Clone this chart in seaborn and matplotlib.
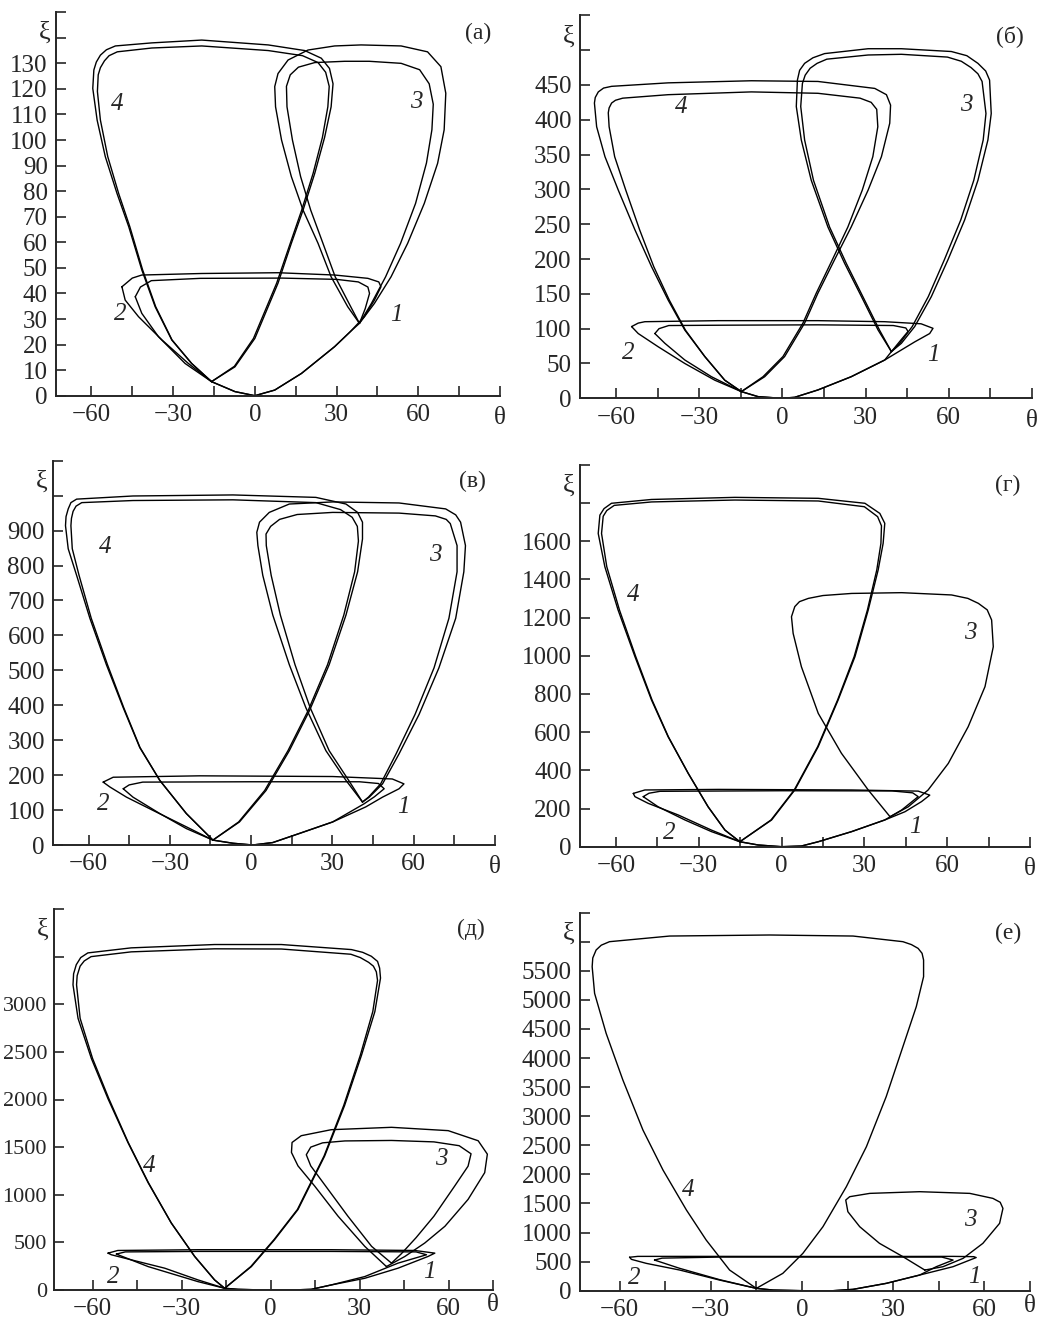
import numpy as np
import matplotlib
matplotlib.use('Agg')
import matplotlib.pyplot as plt
import seaborn as sns

sns.set_style('ticks')
plt.rcParams['font.family'] = ['Liberation Serif', 'DejaVu Serif']

# ---------- curves: (theta, xi) ----------
# panel (а)
a4_out = [(-15.9, 5.5), (-7.3, 11.3), (0, 22.4), (8.5, 44), (13.4, 59.6), (17.7, 72.6), (22, 87), (25.6, 101),
          (28, 113), (28.7, 122), (27.4, 128), (24.4, 132), (18.3, 135), (4.9, 137.2), (-19.5, 139.1),
          (-37.8, 138), (-51.2, 136.8), (-54.5, 135.3), (-56.7, 133.2), (-58.2, 130.5), (-59.1, 127.4),
          (-59.5, 120.2), (-57.9, 107.8), (-54.9, 93.5), (-50.6, 79.1), (-46.3, 66.1), (-41.5, 49.2),
          (-36.6, 34.8), (-30.5, 21.8), (-23.2, 12.6), (-15.9, 5.5)]
a4_in = [(-15.9, 5.5), (-7.5, 11.5), (-0.5, 22.4), (8, 44), (13, 59.6), (17.2, 72.6), (21.4, 87), (24.8, 101),
         (26.8, 113), (27.3, 121), (26, 126.5), (23.2, 130.3), (17.5, 133), (4.9, 135), (-19.5, 136.8),
         (-37.8, 136), (-50.5, 134.5), (-53.5, 133), (-55.2, 131), (-56.7, 128.3), (-57.5, 125.5),
         (-57.8, 119), (-56.7, 107.8), (-54, 93.5), (-50, 79.1), (-45.9, 66.1), (-41.2, 49.2),
         (-36.4, 34.8), (-30.4, 21.8), (-23.2, 12.6), (-15.9, 5.5)]
a3_out = [(38.4, 28.3), (34.1, 34.8), (28, 46.5), (23.2, 59.6), (17.7, 72.6), (13.4, 85.7), (9.8, 100),
          (7.6, 113), (7.3, 120.9), (8.5, 126), (12.2, 131.3), (19.5, 135.2), (29.3, 136.8), (39, 137.2),
          (53.7, 136.8), (63.4, 134.5), (68.3, 128.7), (70.1, 118.3), (69.5, 104), (67.1, 90.9),
          (62.2, 75.2), (56.1, 59.6), (50, 46.5), (43.9, 36.1), (38.4, 28.3)]
a3_in = [(38.4, 28.3), (35.2, 34.8), (29.5, 46.5), (25, 59.6), (20.5, 72.6), (16.8, 85.7), (13.8, 100),
         (11.8, 113), (11.6, 121), (13, 125.5), (16, 128.5), (22, 130.3), (33, 130.8), (42, 130.8),
         (53.7, 130), (60.5, 127.5), (64, 122), (65.5, 114), (65, 104), (63, 91), (59, 75.2),
         (53.5, 59.6), (48, 46.5), (42.8, 36.1), (38.4, 28.3)]
a_band_out = [(-48.8, 42.6), (-45, 46), (-41.5, 47.2), (-19.5, 47.8), (8.5, 48.1), (29.3, 47.2), (41.5, 45.9),
              (45.5, 44.5), (46.3, 42.6), (43.9, 37.4), (40.2, 30.9), (35, 25), (29.3, 19.2), (17.1, 8.7),
              (7.3, 2.2), (0, 0), (-7.3, 1.6), (-15.9, 5.5), (-24.4, 12.6), (-34.1, 21.8), (-42.7, 30.9),
              (-47.6, 37.4), (-48.8, 42.6)]
a_band_in = [(-43.9, 38.7), (-42, 42.5), (-38, 45), (-20, 45.9), (10, 46), (30, 45.5), (38, 44.5), (41.5, 42.5),
             (42.1, 40), (40.5, 34), (38.4, 28.3), (35, 25), (29.3, 19.2), (17.1, 8.7), (7.3, 2.2), (0, 0),
             (-7.3, 1.6), (-15.9, 5.5), (-25.6, 12.6), (-35.4, 23.1), (-41.5, 32.2), (-43.9, 38.7)]

# panel (б)
b4_out = [(-14.8, 9.6), (-6.4, 31), (0.8, 60), (8, 108), (12.8, 151), (18.8, 199), (24.8, 246), (30.9, 299),
          (35.7, 347), (38.7, 395), (39, 421), (37.5, 436), (33.3, 445), (12.8, 455), (-11.2, 456),
          (-41.2, 453), (-61.6, 448), (-64.5, 445.5), (-66.4, 440), (-67.5, 432), (-67.8, 424), (-67, 390),
          (-64, 347), (-59.2, 299), (-53.2, 242), (-47.2, 189), (-41.2, 141), (-35.2, 98), (-28, 60),
          (-20.8, 26), (-14.8, 9.6)]
b4_in = [(-14.8, 9.6), (-7, 31), (0.2, 60), (7.4, 108), (12.2, 151), (18, 199), (23.6, 246), (28.8, 299),
         (32.6, 347), (34.4, 390), (34, 415), (32, 425), (28, 431), (12.8, 438), (-11.2, 440), (-41.2, 436),
         (-57.6, 431), (-60.2, 428), (-61.6, 424), (-62.5, 417), (-62.8, 410), (-62.5, 390), (-60.5, 347),
         (-56.5, 299), (-51.5, 242), (-46.4, 189), (-40.8, 141), (-35, 98), (-28, 60), (-20.8, 26),
         (-14.8, 9.6)]
b3_out = [(39.3, 67), (34.5, 98), (28.5, 146), (22.4, 194), (16.4, 246), (10.4, 313), (6.8, 371), (5, 419),
          (5.4, 457), (6.2, 471), (8, 481), (11, 489), (15.2, 495), (30.9, 502), (42.9, 502), (60.9, 498),
          (66.5, 492), (70.5, 481), (73.3, 470), (74.7, 457), (75.3, 409), (74.1, 371), (70.5, 313),
          (65.7, 256), (59.7, 199), (53.7, 146), (47.7, 103), (42.9, 79), (39.3, 67)]
b3_in = [(39.3, 67), (35, 98), (29, 146), (23, 194), (17, 246), (11.2, 313), (8, 371), (6.6, 419), (7.2, 452),
         (8.2, 464), (10, 474), (12.5, 481), (16, 487), (30.9, 493), (42.9, 494), (59.5, 490), (64.5, 484),
         (68, 475), (70.5, 466), (72, 455), (73.4, 409), (72.4, 371), (69, 313), (64.3, 256), (58.4, 199),
         (52.6, 146), (46.8, 103), (42.3, 79), (39.3, 67)]
b_band_out = [(-54.4, 103), (-52, 108), (-49.6, 110), (-23.2, 111.5), (12.8, 111.5), (36.9, 110), (50, 107),
              (54.3, 100.5), (53.1, 93), (47.7, 81), (36.9, 55), (24.8, 31), (12.8, 12), (4.4, 1.4),
              (-0.4, 0), (-8.8, 2.4), (-14.8, 9.6), (-24.4, 26), (-35.2, 50), (-44.8, 74), (-52, 93),
              (-54.4, 103)]
b_band_in = [(-46, 93), (-44.5, 100), (-41, 104.5), (-20, 105), (12.8, 105.5), (40, 104.5), (44.5, 101),
             (45.3, 96), (43, 85), (39.3, 67), (36.9, 55), (24.8, 31), (12.8, 12), (4.4, 1.4), (-0.4, 0),
             (-8.8, 2.4), (-14.8, 9.6), (-25.6, 31), (-35.2, 55), (-42.4, 79), (-46, 93)]

# panel (в)
c4_out = [(-14.1, 14), (-4.3, 66), (5.5, 156), (14.1, 270), (21.5, 384), (28.8, 516), (35, 658), (39.3, 782),
          (41.1, 876), (41.1, 924), (39.3, 952), (35, 976), (23.9, 995), (-6.7, 1002), (-43.6, 999),
          (-64.4, 990), (-66.5, 980), (-67.5, 962), (-68.3, 940), (-68.5, 914), (-67.5, 848), (-64.4, 772),
          (-59.5, 649), (-53.4, 516), (-47.2, 393), (-41.1, 279), (-33.7, 185), (-23.9, 90), (-14.1, 14)]
c4_in = [(-14.1, 14), (-4.6, 66), (5, 156), (13.6, 270), (21, 384), (28.2, 516), (34.2, 658), (38.2, 782),
         (39.6, 870), (39.2, 912), (37.3, 938), (33, 960), (23.9, 980), (-6.7, 988), (-43.6, 986),
         (-62.5, 980), (-64.6, 970), (-65.7, 955), (-66.3, 935), (-66.5, 914), (-66, 848), (-63.5, 772),
         (-59, 649), (-53, 516), (-47, 393), (-41, 279), (-33.7, 185), (-23.9, 90), (-14.1, 14)]
c3_out = [(41.1, 123), (35, 185), (27.6, 270), (20.2, 393), (14.1, 516), (8, 658), (4.3, 772), (2.5, 857),
          (2.1, 895), (3.1, 924), (6.7, 952), (14.1, 976), (30.1, 982), (54.6, 979), (71.8, 962), (75.5, 945),
          (77.3, 924), (79.1, 857), (78.5, 782), (75.5, 649), (69.3, 507), (62, 374), (54.6, 261), (48.5, 175),
          (43.6, 137), (41.1, 123)]
c3_in = [(41.1, 123), (36, 185), (28.8, 270), (21.8, 393), (16.2, 516), (10.8, 658), (7.4, 772), (5.6, 857),
         (5.5, 890), (7.2, 912), (10.5, 932), (17, 946), (30.1, 952), (54.6, 950), (68, 942), (72, 932),
         (73.5, 920), (76, 857), (76, 782), (73, 649), (67.5, 507), (60.5, 374), (53.5, 261), (47.8, 175),
         (43.3, 137), (41.1, 123)]
c_band_out = [(-54.6, 180), (-50.9, 194), (-19, 198), (30.1, 196), (52.1, 189), (56.4, 175), (54.6, 161),
              (48.5, 137), (42.3, 109), (30.1, 66), (17.8, 33), (8, 7), (0.6, 0), (-6.7, 5), (-14.1, 14),
              (-23.9, 52), (-36.2, 99), (-46, 137), (-52.1, 166), (-54.6, 180)]
c_band_in = [(-47.2, 161), (-45, 172), (-40, 180), (0, 181), (40, 181), (47, 176), (49.1, 161), (45.5, 138),
             (41.7, 118), (30.1, 66), (17.8, 33), (8, 7), (0.6, 0), (-6.7, 5), (-14.1, 14), (-23.9, 47),
             (-33.7, 90), (-43.6, 137), (-47.2, 161)]

# panel (г)
d4_out = [(-15.1, 26), (-3.6, 140), (4.8, 297), (13.3, 524), (20.5, 768), (26.6, 995), (31.4, 1239),
          (35, 1449), (36.8, 1588), (37.4, 1693), (35.6, 1745), (30.2, 1798), (13.3, 1824), (-16.9, 1829),
          (-47.1, 1818), (-61.6, 1798), (-64.3, 1770), (-65.8, 1736), (-66.4, 1640), (-64, 1466),
          (-59.2, 1239), (-53.1, 995), (-47.1, 768), (-41.1, 576), (-33.8, 384), (-26.6, 209), (-20.5, 87),
          (-15.1, 26)]
d4_in = [(-15.1, 26), (-3.8, 140), (4.6, 297), (13.1, 524), (20.3, 768), (26.3, 995), (31.1, 1239),
         (34.5, 1449), (36, 1588), (36.2, 1680), (34.8, 1728), (30, 1780), (13.3, 1810), (-16.9, 1815),
         (-47.1, 1805), (-60.6, 1787), (-63.3, 1760), (-64.6, 1730), (-65.2, 1640), (-63.3, 1466),
         (-58.7, 1239), (-52.8, 995), (-46.9, 768), (-41, 576), (-33.8, 384), (-26.6, 209), (-20.5, 87),
         (-15.1, 26)]
d3 = [(39.3, 157), (31.4, 297), (21.7, 489), (13.3, 698), (7.2, 942), (4.2, 1117), (3.6, 1204), (4.8, 1257),
      (6.5, 1283), (9.7, 1300), (15, 1315), (25.4, 1326), (43.5, 1330), (61.6, 1318), (67.5, 1300),
      (71.3, 1274), (74.5, 1240), (76.1, 1187), (76.7, 1047), (73.7, 838), (67.6, 628), (60.4, 436),
      (53.1, 297), (45.9, 209), (39.3, 157)]
d_band_out = [(-53.7, 279), (-49.5, 297), (-22.9, 300), (25.4, 297), (49.5, 291), (53.7, 270), (50.7, 236),
              (44.7, 183), (37.4, 140), (25.4, 79), (13.3, 26), (7.2, 3.5), (0, 0), (-8.5, 9), (-15.1, 26),
              (-25.4, 87), (-37.4, 166), (-48.3, 227), (-53.1, 262), (-53.7, 279)]
d_band_in = [(-50.1, 262), (-48, 280), (-44, 290), (0, 293), (40, 292), (47.5, 282), (49.5, 262),
             (43.5, 192), (37.4, 140), (25.4, 79), (13.3, 26), (7.2, 3.5), (0, 0), (-8.5, 9), (-15.1, 26),
             (-25.4, 79), (-35, 140), (-44.7, 209), (-50.1, 262)]

# panel (д)
e4_out = [(-15.5, 18), (-6.5, 246), (1.3, 528), (9.2, 845), (18.2, 1408), (24.9, 1937), (30.6, 2465),
          (35.1, 2923), (37, 3275), (36.7, 3380), (36, 3450), (33.9, 3504), (31, 3545), (27.2, 3574),
          (3.6, 3627), (-18.9, 3627), (-47, 3592), (-61.6, 3539), (-64, 3490), (-65.5, 3415), (-66.4, 3320),
          (-66.6, 3204), (-64.9, 2852), (-60.4, 2430), (-54.8, 2007), (-48.1, 1549), (-41.3, 1127),
          (-33.5, 704), (-25.6, 352), (-18.9, 106), (-15.5, 18)]
e4_in = [(-15.5, 18), (-6.7, 246), (1.1, 528), (9, 845), (18, 1408), (24.6, 1937), (30.2, 2465), (34.4, 2923),
         (36, 3250), (35.6, 3340), (34.6, 3400), (33, 3440), (30.2, 3490), (27, 3525), (3.6, 3580),
         (-18.9, 3582), (-47, 3550), (-60.5, 3500), (-62.8, 3455), (-64.2, 3400), (-65.2, 3300),
         (-65.4, 3204), (-64.2, 2852), (-60, 2430), (-54.5, 2007), (-48, 1549), (-41.2, 1127), (-33.5, 704),
         (-25.6, 352), (-18.9, 106), (-15.5, 18)]
e3_out = [(39, 246), (31.7, 458), (22.7, 775), (14.8, 1092), (9.2, 1303), (7, 1444), (7.2, 1549), (10.3, 1620),
          (20.4, 1683), (40.7, 1708), (59.8, 1673), (69.9, 1567), (73, 1426), (72.1, 1232), (66.5, 951),
          (58.7, 669), (51.9, 493), (45.2, 352), (39, 246)]
e3_in = [(40.7, 282), (34, 458), (26, 775), (18.5, 1092), (13.5, 1303), (12, 1420), (13.5, 1500), (17.5, 1545),
         (25, 1565), (40.7, 1570), (55, 1555), (63.5, 1515), (67.5, 1430), (66.5, 1300), (62, 1092),
         (55, 775), (49, 550), (44, 380), (40.7, 282)]
e_band_out = [(-54.8, 387), (-51.5, 415), (-24.5, 423), (20.4, 423), (48.5, 415), (55.3, 387), (53, 352),
              (42.9, 229), (31.7, 123), (20.4, 53), (13.7, 7), (7, 0), (-2, 0), (-11, 7), (-15.5, 18),
              (-24.5, 106), (-35.7, 229), (-47, 317), (-53.7, 370), (-54.8, 387)]
e_band_in = [(-52, 377), (-49, 400), (-24.5, 405), (20.4, 405), (49, 400), (52.5, 370), (42.9, 282),
             (31.7, 141), (20.4, 53), (13.7, 7), (7, 0), (-2, 0), (-11, 7), (-15.5, 18), (-24.5, 88),
             (-41.3, 246), (-52, 377)]

# panel (е)
f4 = [(-15, 40), (-6.3, 298), (0.3, 642), (6.9, 1100), (14.6, 1788), (21.2, 2476), (27.7, 3335), (33.2, 4195),
      (37.6, 4883), (40, 5398), (40, 5685), (39.5, 5800), (38.2, 5885), (36, 5950), (33.2, 6000), (16.8, 6097),
      (-10.6, 6115), (-43.5, 6097), (-63.3, 6000), (-66, 5940), (-67.7, 5857), (-68.8, 5720), (-69, 5570),
      (-68.2, 5112), (-64.4, 4424), (-58.9, 3622), (-52.3, 2762), (-45.7, 2074), (-38, 1387), (-31.5, 871),
      (-23.8, 355), (-15, 40)]
f3 = [(40.4, 355), (33.2, 585), (25.5, 814), (19, 1100), (15.1, 1358), (14.4, 1559), (15.7, 1616), (22.3, 1673),
      (38.7, 1702), (55.2, 1673), (62.8, 1587), (65.2, 1520), (66.1, 1415), (65, 1158), (59.5, 814), (53, 556),
      (46.4, 413), (40.4, 355)]
f_band_out = [(-56.7, 575), (-54, 590), (-27.1, 590), (16.8, 588), (49.7, 590), (56.5, 585), (57.3, 570),
              (49.7, 413), (38.7, 269), (27.7, 126), (16.8, 23), (10.2, 0), (0.3, 0), (-9.5, 11), (-15, 40),
              (-27.1, 183), (-40.2, 355), (-51.2, 470), (-56.1, 539), (-56.7, 575)]
f_band_in = [(-48.5, 527), (-46, 560), (-27.1, 578), (16.8, 578), (46, 578), (49.7, 527), (44.2, 413),
             (38.7, 269), (27.7, 126), (16.8, 23), (10.2, 0), (0.3, 0), (-9.5, 11), (-15, 40), (-27.1, 190),
             (-40.2, 384), (-48.5, 527)]

# ---------- axis values ----------
a_yticks = list(range(0, 151, 10))
b_yticks = list(range(0, 551, 50))
c_yticks = list(range(0, 1101, 100))
d_yticks = list(range(0, 2001, 200))
e_yticks = list(range(0, 4001, 500))
f_yticks = list(range(0, 6501, 500))
a_ylabmax, b_ylabmax, c_ylabmax, d_ylabmax, e_ylabmax, f_ylabmax = 130, 450, 900, 1600, 3000, 5500
theta_labels = [-60, -30, 0, 30, 60]

# loop number labels (theta, xi)
a_nums = {'1': (51.9, 31.5), '2': (-49.6, 32), '3': (59.2, 115), '4': (-50.6, 114)}
b_nums = {'1': (54.3, 62), '2': (-55.6, 64.6), '3': (66.3, 421), '4': (-36.4, 419)}
c_nums = {'1': (56.3, 109), '2': (-54.5, 118), '3': (67.9, 829), '4': (-53.9, 853)}
d_nums = {'1': (48.3, 105), '2': (-40.5, 70), '3': (68.2, 1117), '4': (-53.7, 1318)}
e_nums = {'1': (53.6, 194), '2': (-53.1, 141), '3': (57.5, 1373), '4': (-40.8, 1303)}
f_nums = {'1': (56.8, 241), '2': (-55, 212), '3': (55.2, 1215), '4': (-37.5, 1731)}

W, H = 1050, 1321
fig = plt.figure(figsize=(W / 100, H / 100), dpi=100)


def px_rect(left, right, top, bottom):
    return [left / W, 1 - bottom / H, (right - left) / W, (bottom - top) / H]


def fmt(v):
    return str(v).replace('-', '\u2212')


def draw_curve(ax, pts, lw=1.0):
    arr = np.array(pts, dtype=float)
    sns.lineplot(x=arr[:, 0], y=arr[:, 1], sort=False, estimator=None,
                 color='black', linewidth=lw, ax=ax, solid_joinstyle='round')


panels = [
    ('(а)', px_rect(56, 500, 12.2, 395.7), 90, a_yticks, a_ylabmax,
     [a4_out, a4_in, a3_out, a3_in, a_band_out, a_band_in], a_nums, 18, -16),
    ('(б)', px_rect(580, 1032, 15.3, 398.3), 90, b_yticks, b_ylabmax,
     [b4_out, b4_in, b3_out, b3_in, b_band_out, b_band_in], b_nums, 18, -16),
    ('(в)', px_rect(53.3, 495, 460.7, 845), 90, c_yticks, c_ylabmax,
     [c4_out, c4_in, c3_out, c3_in, c_band_out, c_band_in], c_nums, 18, -16),
    ('(г)', px_rect(580, 1030, 464.7, 846.7), 90, d_yticks, d_ylabmax,
     [d4_out, d4_in, d3, d_band_out, d_band_in], d_nums, 18, -16),
    ('(д)', px_rect(54, 493.3, 909, 1290), 75, e_yticks, e_ylabmax,
     [e4_out, e4_in, e3_out, e3_in, e_band_out, e_band_in], e_nums, 16, -11),
    ('(е)', px_rect(580, 1030, 912.6, 1290.7), 75, f_yticks, f_ylabmax,
     [f4, f3, f_band_out, f_band_in], f_nums, 18, -11),
]

for tag, rect, xmax, yticks, ylabmax, curves, nums, ysize, th_dy in panels:
    ax = fig.add_axes(rect)
    for c in curves:
        draw_curve(ax, c)
    ax.set_xlim(-73, xmax)
    ax.set_ylim(0, yticks[-1])
    sns.despine(ax=ax)
    for s in ('left', 'bottom'):
        ax.spines[s].set_linewidth(1.4)
    xt = list(range(-60, xmax + 1, 15))
    ax.set_xticks(xt)
    ax.set_xticklabels([fmt(v) if v in theta_labels else '' for v in xt])
    ax.set_yticks(yticks)
    ax.set_yticklabels([fmt(v) if v <= ylabmax else '' for v in yticks])
    ax.tick_params(direction='in', length=7, width=1.2, labelsize=18, pad=6)
    ax.tick_params(axis='y', labelsize=ysize, pad=5 if ysize < 18 else 6)
    ax.set_xlabel('')
    ax.set_ylabel('')
    ax.annotate('ξ', xy=(0, 1), xycoords='axes fraction', xytext=(-8, -15),
                textcoords='offset points', ha='center', va='center', fontsize=19)
    ax.annotate('θ', xy=(1, 0), xycoords='axes fraction', xytext=(0, th_dy),
                textcoords='offset points', ha='center', va='center', fontsize=18)
    ax.annotate(tag, xy=(1, 1), xycoords='axes fraction', xytext=(-16, -15),
                textcoords='offset points', ha='center', va='center', fontsize=17)
    for k, (tx, ty) in nums.items():
        ax.text(tx, ty, k, fontsize=18, style='italic', ha='center', va='center')

fig.savefig('out.png', dpi=100)
